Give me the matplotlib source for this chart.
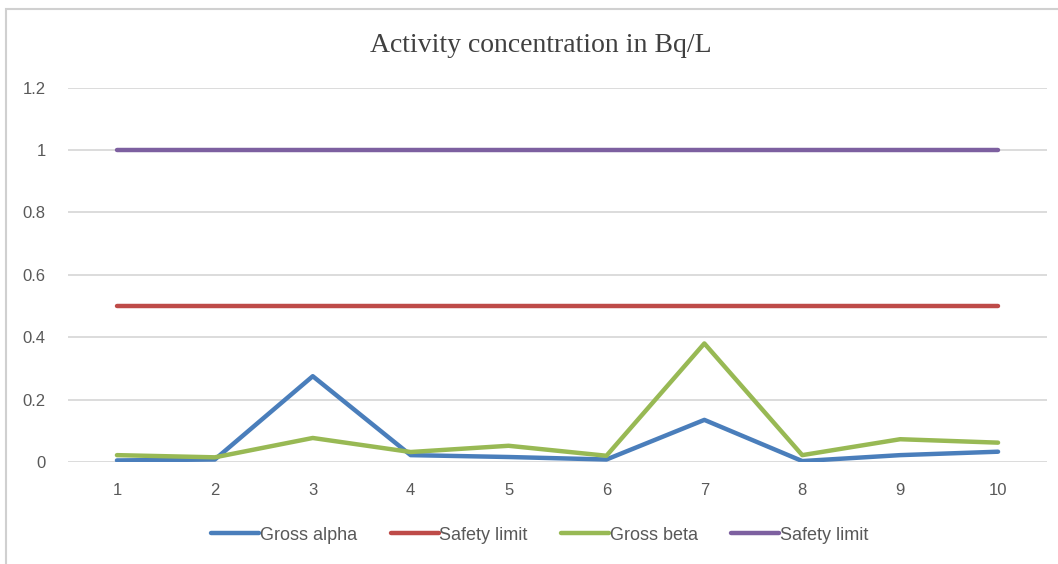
import matplotlib
matplotlib.use("Agg")
import matplotlib.pyplot as plt
from matplotlib.patches import Rectangle

# sample numbers and measured activity (Bq/L)
samples = [1, 2, 3, 4, 5, 6, 7, 8, 9, 10]
gross_alpha = [0.005, 0.008, 0.275, 0.022, 0.016, 0.008, 0.135, 0.003, 0.022, 0.033]
gross_beta = [0.022, 0.015, 0.077, 0.032, 0.052, 0.020, 0.380, 0.022, 0.073, 0.062]
alpha_limit = [0.5] * 10
beta_limit = [1.0] * 10
y_ticks = [0, 0.2, 0.4, 0.6, 0.8, 1, 1.2]
y_labels = ["0", "0.2", "0.4", "0.6", "0.8", "1", "1.2"]

W, H = 1058, 564
fig = plt.figure(figsize=(W / 100, H / 100), dpi=100)
fig.patch.set_facecolor("white")

# outer chart border (only left and top edges are inside the frame)
fig.patches.append(Rectangle((6 / W, -0.1), 1.2, (H - 9) / H + 0.1,
                             transform=fig.transFigure, fill=False,
                             edgecolor="#D0D0D0", linewidth=1.5))

ax = fig.add_axes([68 / W, (H - 462) / H, (1047 - 68) / W, (462 - 87.6) / H])

series = [
    (gross_alpha, "#4A7EBB", "Gross alpha"),
    (alpha_limit, "#BE4B48", "Safety limit"),
    (gross_beta, "#98B954", "Gross beta"),
    (beta_limit, "#7D60A0", "Safety limit"),
]
for vals, color, label in series:
    ax.plot(samples, vals, color=color, linewidth=3.2, label=label,
            solid_capstyle="round", solid_joinstyle="round")

ax.set_xlim(0.5, 10.5)
ax.set_ylim(0, 1.2)
ax.set_xticks(samples)
ax.set_yticks(y_ticks)
ax.set_yticklabels(y_labels)
ax.grid(axis="y", color="#D9D9D9", linewidth=1.3)
ax.set_axisbelow(True)
for s in ax.spines.values():
    s.set_visible(False)
ax.tick_params(axis="both", length=0, labelcolor="#595959", labelsize=12)
ax.tick_params(axis="x", pad=15)
ax.tick_params(axis="y", pad=16)
for lbl in ax.get_xticklabels() + ax.get_yticklabels():
    lbl.set_fontfamily("Liberation Sans")

fig.text(541 / W, 1 - 45 / H, "Activity concentration in Bq/L",
         ha="center", va="center", fontsize=20, color="#404040",
         fontfamily="Liberation Serif")

leg = fig.legend(loc="center", bbox_to_anchor=(540 / W, 1 - 535 / H), ncol=4,
                 frameon=False, handlelength=2.65, handletextpad=0.05,
                 columnspacing=1.85, prop={"family": "Liberation Sans", "size": 13})
for t in leg.get_texts():
    t.set_color("#595959")

fig.savefig("out.png", dpi=100)
